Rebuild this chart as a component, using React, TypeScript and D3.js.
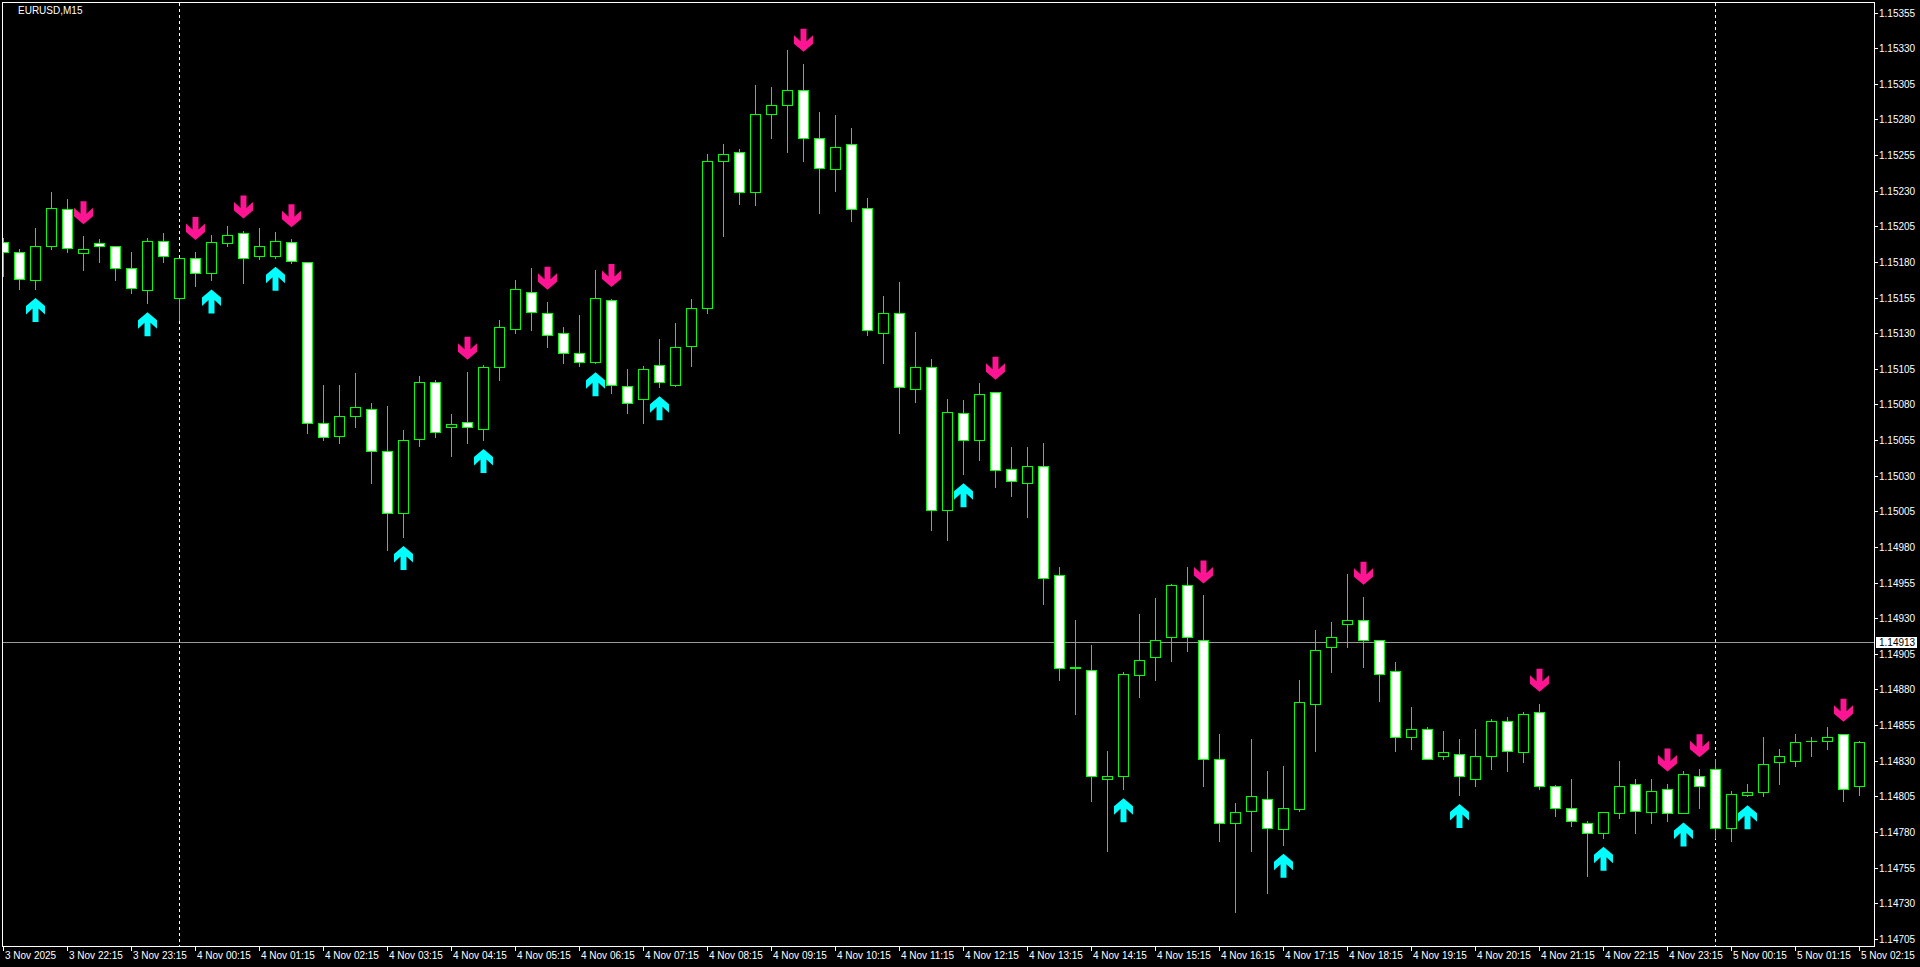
import React from "react";
import * as d3 from "d3";

// ---------------- DATA (EURUSD, M15) ----------------
const timeLabels: string[] = [
  "3 Nov 2025", "3 Nov 22:15", "3 Nov 23:15",
  "4 Nov 00:15", "4 Nov 01:15", "4 Nov 02:15", "4 Nov 03:15", "4 Nov 04:15", "4 Nov 05:15",
  "4 Nov 06:15", "4 Nov 07:15", "4 Nov 08:15", "4 Nov 09:15", "4 Nov 10:15", "4 Nov 11:15",
  "4 Nov 12:15", "4 Nov 13:15", "4 Nov 14:15", "4 Nov 15:15", "4 Nov 16:15", "4 Nov 17:15",
  "4 Nov 18:15", "4 Nov 19:15", "4 Nov 20:15", "4 Nov 21:15", "4 Nov 22:15", "4 Nov 23:15",
  "5 Nov 00:15", "5 Nov 01:15", "5 Nov 02:15",
];

const priceTicks: string[] = [
  "1.15355", "1.15330", "1.15305", "1.15280", "1.15255", "1.15230", "1.15205", "1.15180",
  "1.15155", "1.15130", "1.15105", "1.15080", "1.15055", "1.15030", "1.15005", "1.14980",
  "1.14955", "1.14930", "1.14905", "1.14880", "1.14855", "1.14830", "1.14805", "1.14780",
  "1.14755", "1.14730", "1.14705",
];

const openP: number[] = [
  1.15194, 1.15187, 1.15167, 1.15191, 1.15217, 1.15186, 1.15193, 1.15191, 1.15176, 1.15160,
  1.15195, 1.15155, 1.15183, 1.15172, 1.15193, 1.15200, 1.15184, 1.15184, 1.15194, 1.15180,
  1.15067, 1.15058, 1.15072, 1.15077, 1.15047, 1.15004, 1.15056, 1.15096, 1.15064, 1.15068,
  1.15063, 1.15106, 1.15133, 1.15159, 1.15144, 1.15130, 1.15116, 1.15110, 1.15153, 1.15093,
  1.15084, 1.15108, 1.15094, 1.15121, 1.15148, 1.15251, 1.15257, 1.15229, 1.15284, 1.15290,
  1.15301, 1.15267, 1.15245, 1.15263, 1.15218, 1.15130, 1.15144, 1.15091, 1.15106, 1.15006,
  1.15074, 1.15055, 1.15089, 1.15035, 1.15025, 1.15037, 1.14960, 1.14896, 1.14894, 1.14817,
  1.14819, 1.14890, 1.14903, 1.14917, 1.14953, 1.14915, 1.14831, 1.14786, 1.14795, 1.14803,
  1.14782, 1.14796, 1.14870, 1.14910, 1.14926, 1.14929, 1.14915, 1.14893, 1.14847, 1.14852,
  1.14833, 1.14835, 1.14817, 1.14833, 1.14858, 1.14836, 1.14864, 1.14812, 1.14797, 1.14786,
  1.14779, 1.14793, 1.14814, 1.14794, 1.14810, 1.14793, 1.14819, 1.14824, 1.14783, 1.14806,
  1.14808, 1.14829, 1.14830, 1.14844, 1.14844, 1.14849, 1.14812,
];

const highP: number[] = [
  1.15197, 1.15189, 1.15204, 1.15229, 1.15224, 1.15198, 1.15196, 1.15191, 1.15187, 1.15197,
  1.15200, 1.15183, 1.15187, 1.15199, 1.15205, 1.15202, 1.15204, 1.15201, 1.15196, 1.15180,
  1.15094, 1.15094, 1.15102, 1.15081, 1.15079, 1.15062, 1.15100, 1.15097, 1.15073, 1.15103,
  1.15108, 1.15139, 1.15167, 1.15176, 1.15152, 1.15134, 1.15143, 1.15174, 1.15154, 1.15105,
  1.15107, 1.15126, 1.15137, 1.15154, 1.15256, 1.15263, 1.15259, 1.15304, 1.15303, 1.15329,
  1.15319, 1.15285, 1.15283, 1.15274, 1.15225, 1.15156, 1.15166, 1.15131, 1.15112, 1.15084,
  1.15083, 1.15095, 1.15089, 1.15050, 1.15050, 1.15053, 1.14966, 1.14929, 1.14911, 1.14837,
  1.14892, 1.14933, 1.14944, 1.14954, 1.14966, 1.14946, 1.14849, 1.14800, 1.14845, 1.14823,
  1.14826, 1.14887, 1.14922, 1.14927, 1.14961, 1.14945, 1.14915, 1.14899, 1.14868, 1.14854,
  1.14851, 1.14845, 1.14852, 1.14859, 1.14861, 1.14864, 1.14870, 1.14813, 1.14817, 1.14788,
  1.14794, 1.14830, 1.14817, 1.14817, 1.14814, 1.14823, 1.14824, 1.14831, 1.14809, 1.14814,
  1.14847, 1.14838, 1.14849, 1.14847, 1.14854, 1.14849, 1.14844,
];

const lowP: number[] = [
  1.15170, 1.15161, 1.15161, 1.15189, 1.15187, 1.15174, 1.15180, 1.15167, 1.15158, 1.15151,
  1.15180, 1.15139, 1.15163, 1.15167, 1.15191, 1.15165, 1.15182, 1.15183, 1.15179, 1.15060,
  1.15055, 1.15053, 1.15064, 1.15025, 1.14978, 1.14987, 1.15051, 1.15057, 1.15044, 1.15053,
  1.15055, 1.15097, 1.15130, 1.15132, 1.15120, 1.15109, 1.15107, 1.15109, 1.15088, 1.15074,
  1.15067, 1.15092, 1.15093, 1.15107, 1.15144, 1.15198, 1.15221, 1.15220, 1.15267, 1.15257,
  1.15251, 1.15214, 1.15230, 1.15209, 1.15129, 1.15109, 1.15060, 1.15082, 1.14992, 1.14985,
  1.15031, 1.15041, 1.15022, 1.15016, 1.15001, 1.14940, 1.14887, 1.14863, 1.14802, 1.14767,
  1.14810, 1.14875, 1.14887, 1.14900, 1.14907, 1.14812, 1.14774, 1.14724, 1.14767, 1.14737,
  1.14771, 1.14795, 1.14837, 1.14892, 1.14910, 1.14896, 1.14872, 1.14837, 1.14838, 1.14831,
  1.14831, 1.14806, 1.14812, 1.14824, 1.14823, 1.14829, 1.14810, 1.14791, 1.14784, 1.14749,
  1.14776, 1.14790, 1.14779, 1.14786, 1.14788, 1.14793, 1.14797, 1.14776, 1.14774, 1.14805,
  1.14805, 1.14814, 1.14826, 1.14833, 1.14838, 1.14802, 1.14806,
];

const closeP: number[] = [
  1.15187, 1.15168, 1.15191, 1.15218, 1.15190, 1.15189, 1.15191, 1.15176, 1.15162, 1.15195,
  1.15184, 1.15183, 1.15172, 1.15194, 1.15199, 1.15183, 1.15191, 1.15195, 1.15181, 1.15067,
  1.15057, 1.15072, 1.15078, 1.15047, 1.15004, 1.15055, 1.15096, 1.15061, 1.15066, 1.15064,
  1.15106, 1.15134, 1.15161, 1.15145, 1.15129, 1.15116, 1.15110, 1.15155, 1.15094, 1.15081,
  1.15105, 1.15096, 1.15120, 1.15148, 1.15251, 1.15256, 1.15229, 1.15284, 1.15290, 1.15301,
  1.15267, 1.15246, 1.15261, 1.15217, 1.15132, 1.15144, 1.15092, 1.15106, 1.15006, 1.15075,
  1.15055, 1.15087, 1.15034, 1.15026, 1.15037, 1.14958, 1.14895, 1.14895, 1.14819, 1.14819,
  1.14891, 1.14901, 1.14915, 1.14953, 1.14917, 1.14831, 1.14786, 1.14794, 1.14805, 1.14783,
  1.14797, 1.14871, 1.14908, 1.14917, 1.14929, 1.14915, 1.14891, 1.14847, 1.14852, 1.14831,
  1.14836, 1.14819, 1.14833, 1.14858, 1.14837, 1.14863, 1.14812, 1.14797, 1.14788, 1.14779,
  1.14794, 1.14812, 1.14795, 1.14809, 1.14793, 1.14821, 1.14812, 1.14783, 1.14807, 1.14808,
  1.14828, 1.14833, 1.14843, 1.14844, 1.14847, 1.14810, 1.14843,
];

// signal arrows (bar indices)
const buySignals: number[] = [2, 9, 13, 17, 25, 30, 37, 41, 60, 70, 80, 91, 100, 105, 109];
const sellSignals: number[] = [5, 12, 15, 18, 29, 34, 38, 50, 62, 75, 85, 96, 104, 106, 115];

// day separators (bar index of 00:00)
const daySeparators: number[] = [11, 107];

const currentPrice = 1.14913;
const symbolTitle = "EURUSD,M15";

// ---------------- LAYOUT ----------------
const W = 1920;
const H = 967;
const L = 2;
const T = 2;
const R = 1874;
const B = 946;
const FONT = "'Liberation Sans', Arial, sans-serif";
const FS = 10;

const downArrow = "0,0 -9.5,-8 -9.5,-16.5 -3,-10.5 -3,-23 3,-23 3,-10.5 9.5,-16.5 9.5,-8";
const upArrow = "0,0 -9.5,8 -9.5,16.5 -3,10.5 -3,24 3,24 3,10.5 9.5,16.5 9.5,8";

export default function App() {
  const n = openP.length;
  const x = d3.scaleLinear().domain([0, n - 1]).range([3, 1859]);
  const y = d3.scaleLinear().domain([1.147, 1.153624]).range([B, T]);
  const px = (i: number) => Math.round(x(i));
  const py = (p: number) => Math.round(y(p));

  const bars = d3.range(n).map((i) => ({
    i,
    o: openP[i],
    h: highP[i],
    l: lowP[i],
    c: closeP[i],
  }));

  const priceY = py(currentPrice) + 0.5;

  return (
    <div style={{ width: W, height: H, background: "#000" }}>
      <style>{`html,body{margin:0;padding:0;background:#000;overflow:hidden}`}</style>
      <svg width={W} height={H} style={{ display: "block" }} fontFamily={FONT}>
        <rect x={0} y={0} width={W} height={H} fill="#000" />
        <defs>
          <clipPath id="plot">
            <rect x={L + 1} y={T + 1} width={R - L - 1} height={B - T - 1} />
          </clipPath>
        </defs>

        {/* day separators */}
        {daySeparators.map((s) => (
          <line
            key={"sep" + s}
            x1={px(s) + 0.5}
            x2={px(s) + 0.5}
            y1={T + 1}
            y2={B}
            stroke="#ffffff"
            strokeWidth={1}
            strokeDasharray="3,3"
            shapeRendering="crispEdges"
          />
        ))}

        {/* current price line */}
        <line x1={L} x2={R} y1={priceY} y2={priceY} stroke="#9a9a9a" strokeWidth={1} shapeRendering="crispEdges" />

        <g clipPath="url(#plot)" shapeRendering="crispEdges">
          {bars.map((b) => {
            const cx = px(b.i);
            const yh = py(b.h);
            const yl = py(b.l);
            const top = py(Math.max(b.o, b.c));
            const bot = py(Math.min(b.o, b.c));
            const bull = b.c >= b.o;
            return (
              <g key={"bar" + b.i}>
                <line x1={cx + 0.5} x2={cx + 0.5} y1={yh} y2={yl + 1} stroke="#00ff00" strokeWidth={1} />
                {bot - top >= 1 ? (
                  <rect
                    x={cx - 4.5}
                    y={top + 0.5}
                    width={10}
                    height={bot - top}
                    fill={bull ? "#000000" : "#ffffff"}
                    stroke="#00ff00"
                    strokeWidth={1}
                  />
                ) : (
                  <line x1={cx - 5} x2={cx + 6} y1={top + 0.5} y2={top + 0.5} stroke="#00ff00" strokeWidth={1} />
                )}
              </g>
            );
          })}

          {sellSignals.map((i) => (
            <polygon
              key={"s" + i}
              points={downArrow}
              transform={`translate(${px(i) + 0.5},${y(highP[i]) - 12})`}
              fill="#ff1493"
              shapeRendering="auto"
            />
          ))}
          {buySignals.map((i) => (
            <polygon
              key={"b" + i}
              points={upArrow}
              transform={`translate(${px(i) + 0.5},${y(lowP[i]) + 9})`}
              fill="#00ffff"
              shapeRendering="auto"
            />
          ))}
        </g>

        {/* frame */}
        <rect x={L + 0.5} y={T + 0.5} width={R - L} height={B - T} fill="none" stroke="#ffffff" strokeWidth={1} shapeRendering="crispEdges" />

        {/* title */}
        <text x={18} y={14} fill="#ffffff" fontSize={FS}>
          {symbolTitle}
        </text>

        {/* price axis */}
        {priceTicks.map((t) => {
          const yy = py(+t) + 0.5;
          return (
            <g key={"pt" + t}>
              <line x1={R} x2={R + 4} y1={yy} y2={yy} stroke="#ffffff" shapeRendering="crispEdges" />
              <text x={R + 5} y={yy + 3.5} fill="#ffffff" fontSize={FS}>
                {t}
              </text>
            </g>
          );
        })}

        {/* current price label */}
        <rect x={R + 2} y={priceY - 5.5} width={41} height={11} fill="#ffffff" />
        <text x={R + 5} y={priceY + 3.5} fill="#000000" fontSize={FS}>
          {currentPrice.toFixed(5)}
        </text>

        {/* time axis */}
        {timeLabels.map((t, k) => {
          const xx = px(k * 4) + 0.5;
          return (
            <g key={"tl" + k}>
              <line x1={xx} x2={xx} y1={B} y2={B + 5} stroke="#ffffff" shapeRendering="crispEdges" />
              <text x={xx + 1.5} y={959} fill="#ffffff" fontSize={FS}>
                {t}
              </text>
            </g>
          );
        })}
      </svg>
    </div>
  );
}
